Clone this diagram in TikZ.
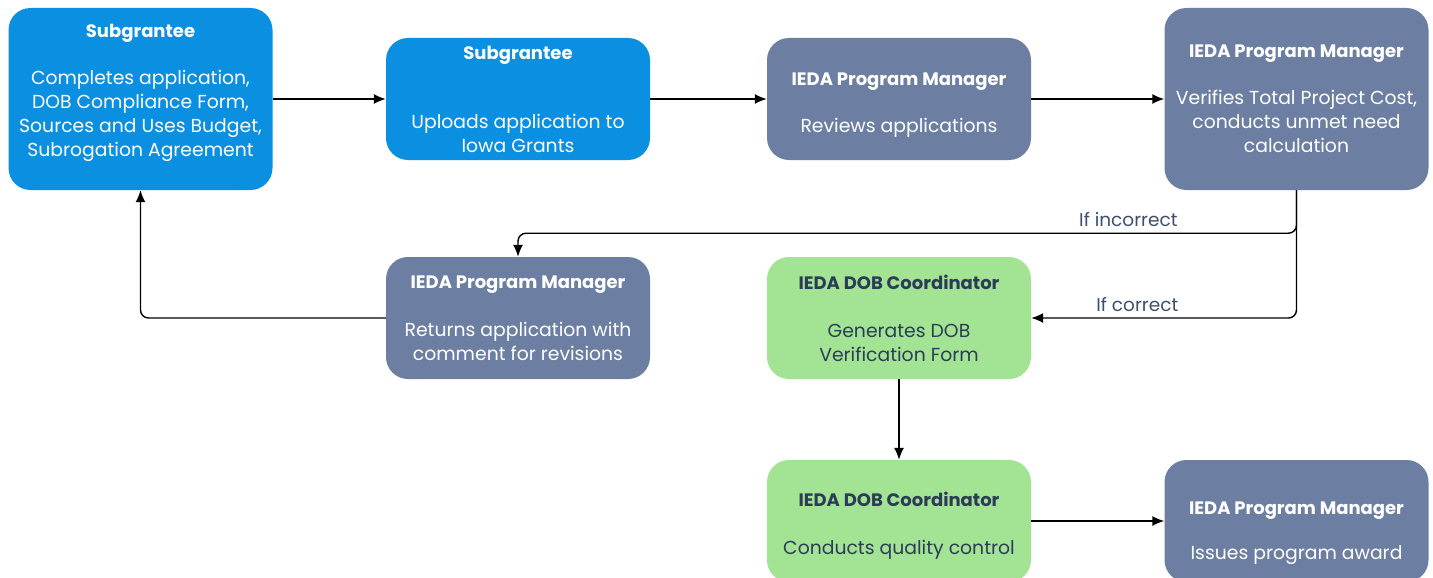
\documentclass[tikz,border=0pt]{standalone}
\usepackage{fontspec}
\setmainfont{Poppins}
\usetikzlibrary{arrows.meta}
\definecolor{grantblue}{HTML}{0B8FE0}
\definecolor{iedaslate}{HTML}{6C7FA3}
\definecolor{dobgreen}{HTML}{A2E494}
\definecolor{darkink}{HTML}{2C3C58}
\definecolor{noteink}{HTML}{3E4F6E}
\tikzset{
    every node/.style={align=center,},
    procbox/.style={rectangle,rounded corners=22pt,minimum width=264pt,inner sep=0pt,
        font=\fontsize{18.8}{24}\selectfont,},
    grantee/.style={procbox,fill=grantblue,text=white,},
    manager/.style={procbox,fill=iedaslate,text=white,},
    coord/.style={procbox,fill=dobgreen,text=darkink,},
    note/.style={text=noteink,font=\fontsize{18.5}{20}\selectfont,inner sep=6pt,},
    flow/.style={draw=black,line width=1.4pt,rounded corners=8pt,-{Latex[length=12pt,width=10pt]},},
}
\newcommand{\ttl}[1]{{\fontsize{18}{24}\selectfont\bfseries #1}}

\begin{document}
\begin{tikzpicture}[x=1pt,y=1pt]
                \useasboundingbox (0,0) rectangle (1433,-578);
                \fill[white] (0,0) rectangle (1433,-578);

                \node[grantee,minimum height=182pt] (apply) at (140.5,-99)
                    {\ttl{Subgrantee}\\[23pt]Completes application,\\DOB Compliance Form,\\Sources and Uses Budget,\\Subrogation Agreement\\[-6pt]};
                \node[grantee,minimum height=122pt] (upload) at (518,-99)
                    {\ttl{Subgrantee}\\[45pt]Uploads application to\\Iowa Grants};
                \node[manager,minimum height=122pt] (review) at (899,-99)
                    {\mbox{}\\[0pt]\ttl{IEDA Program Manager}\\[23pt]Reviews applications};
                \node[manager,minimum height=182pt] (verify) at (1296.5,-99)
                    {\ttl{IEDA Program Manager}\\[23pt]Verifies Total Project Cost,\\conducts unmet need\\calculation};

                \node[manager,minimum height=122pt] (return) at (518,-318)
                    {\ttl{IEDA Program Manager}\\[24pt]Returns application with\\comment for revisions};
                \node[coord,minimum height=122pt] (generate) at (899,-318)
                    {\ttl{IEDA DOB Coordinator}\\[24pt]Generates DOB\\Verification Form};

                \node[coord,minimum height=122pt] (quality) at (899,-521)
                    {\mbox{}\\[0pt]\ttl{IEDA DOB Coordinator}\\[24pt]Conducts quality control};
                \node[manager,minimum height=122pt] (award) at (1296.5,-521)
                    {\mbox{}\\[13pt]\ttl{IEDA Program Manager}\\[21pt]Issues program award};

                \draw[flow] (apply) to (upload);
                \draw[flow] (upload) to (review);
                \draw[flow] (review) to (verify);

                \draw[flow] (verify.south) -- ++(0,-43) -| (return.north)
                    node[note,above,pos=0.108] {If incorrect};
                \draw[flow] (verify.south) |- (generate.east)
                    node[note,above,pos=0.8] {If correct};

                \draw[flow] (return.west) -| (apply.south);
                \draw[flow] (generate) to (quality);
                \draw[flow] (quality) to (award);
            \end{tikzpicture}
\end{document}
